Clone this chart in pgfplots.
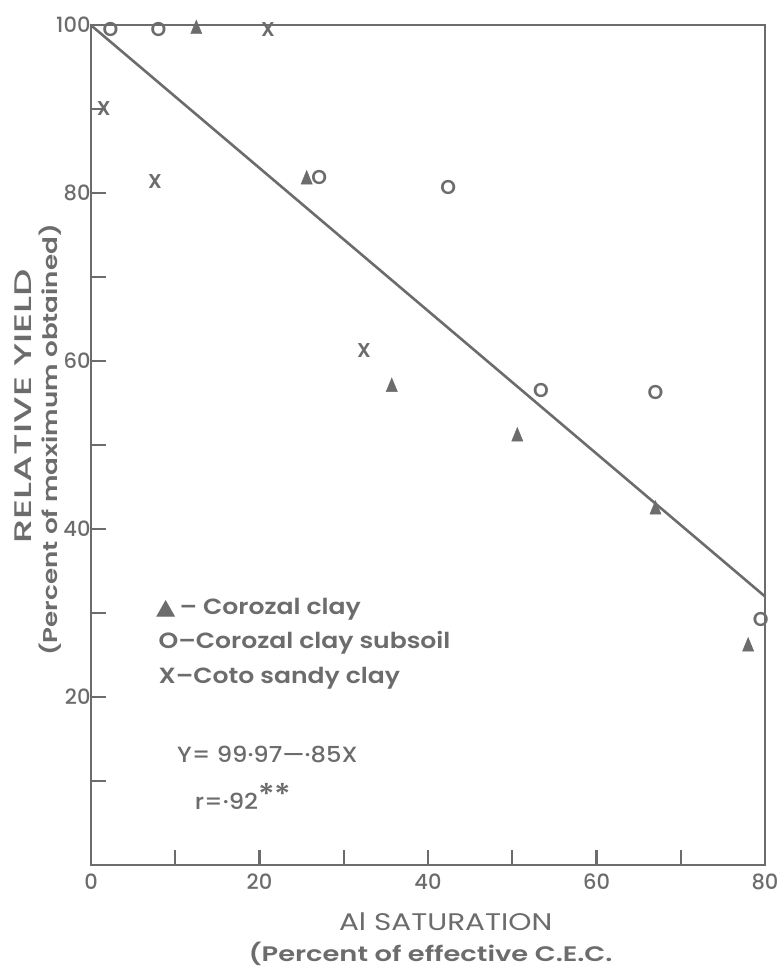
\documentclass[border=0pt]{standalone}
\usepackage{pgfplots}
\pgfplotsset{compat=1.18}
\usepackage{fontspec}
\setmainfont{Poppins}
\IfFontExistsTF{Poppins Medium}{\newfontfamily\med{Poppins Medium}}{\newfontfamily\med{Poppins}[FakeBold=0.6]}
\IfFontExistsTF{Poppins SemiBold}{\newfontfamily\semi{Poppins SemiBold}}{\newfontfamily\semi{Poppins}[FakeBold=1.4]}
\newfontfamily\sym{DejaVu Sans}
\definecolor{ink}{RGB}{108,108,108}
\newcommand{\wide}[2]{\scalebox{#1}[1]{#2}}
\begin{document}
\begin{tikzpicture}
\begin{axis}[
  scale only axis, width=674pt, height=840pt,
  xmin=0, xmax=80, ymin=0, ymax=100,
  axis line style={ink, line width=2.6pt},
  xtick={0,10,...,80}, xticklabels={0,,20,,40,,60,,80},
  ytick={10,20,...,100}, yticklabels={,20,,40,,60,,80,,100},
  xtick pos=lower, ytick pos=left,
  tick align=inside, major tick length=15pt,
  tick style={ink, line width=2.2pt},
  ticklabel style={text=ink, font=\fontsize{21}{21}\med},
  xticklabel style={yshift=-5pt},
  yticklabel style={xshift=3pt},
  /pgf/number format/assume math mode=true,
  clip=false,
]
% regression line Y = 99.97 - 0.85X
\addplot[ink, line width=2.6pt] coordinates {(0,99.97) (80,31.97)};
% Corozal clay (triangles)
\addplot[only marks, mark=triangle*, mark size=6.5pt, mark options={yscale=1.4}, ink, fill=ink] coordinates {
 (12.5,99.5) (25.6,81.6) (35.7,56.9) (50.6,51) (67,42.3) (78,26)};
% Corozal clay subsoil (O)
\addplot[only marks, mark=text, text mark as node=true, text mark={O}, text mark style={font=\fontsize{20}{20}\semi, text=ink, inner sep=0pt}] coordinates {
 (2.3,99.5) (8,99.5) (27.1,81.9) (42.4,80.6) (53.4,56.5) (67,56.3) (79.5,29.2)};
% Coto sandy clay (X)
\addplot[only marks, mark=text, text mark as node=true, text mark={X}, text mark style={font=\fontsize{20}{20}\semi, text=ink, inner sep=0pt}] coordinates {
 (1.5,90) (7.6,81.4) (21,99.5) (32.4,61.2)};

\node[anchor=west, inner sep=0pt, text=ink, font=\fontsize{22}{22}\semi] at (axis cs:7.7,30.4) {\wide{1.14}{{\sym ▲}\,– Corozal clay}};
\node[anchor=west, inner sep=0pt, text=ink, font=\fontsize{22}{22}\semi] at (axis cs:8.0,26.5) {\wide{1.14}{O–Corozal clay subsoil}};
\node[anchor=west, inner sep=0pt, text=ink, font=\fontsize{22}{22}\semi] at (axis cs:8.0,22.2) {\wide{1.14}{X–Coto sandy clay}};
\node[anchor=west, inner sep=0pt, text=ink, font=\fontsize{22}{22}\med] at (axis cs:10.2,13.1) {\wide{1.1}{Y= 99·97—·85X}};
\node[anchor=west, inner sep=0pt, text=ink, font=\fontsize{22}{22}\med] at (axis cs:12.3,8.2) {\wide{1.1}{r=·92\raisebox{4pt}{\fontsize{30}{30}\selectfont **}}};

\node[text=ink, font=\fontsize{24}{24}\selectfont] at (axis cs:42.1,-6.8) {\wide{1.23}{Al SATURATION}};
\node[text=ink, font=\fontsize{21}{21}\semi] at (axis cs:40.3,-10.6) {\wide{1.3}{(Percent of effective C.E.C.}};
\node[rotate=90, text=ink, font=\fontsize{24}{24}\med] at (axis cs:-8.0,54.6) {\wide{1.6}{RELATIVE YIELD}};
\node[rotate=90, text=ink, font=\fontsize{20}{20}\semi] at (axis cs:-4.85,50.6) {\wide{1.31}{(Percent of maximum obtained)}};

\coordinate (bl) at (axis cs:0,0);
\coordinate (tr) at (axis cs:80,100);
\end{axis}
\pgfresetboundingbox
\path[use as bounding box] ([xshift=-91pt,yshift=-104pt]bl) rectangle ([xshift=14pt,yshift=25pt]tr);
\end{tikzpicture}
\end{document}
